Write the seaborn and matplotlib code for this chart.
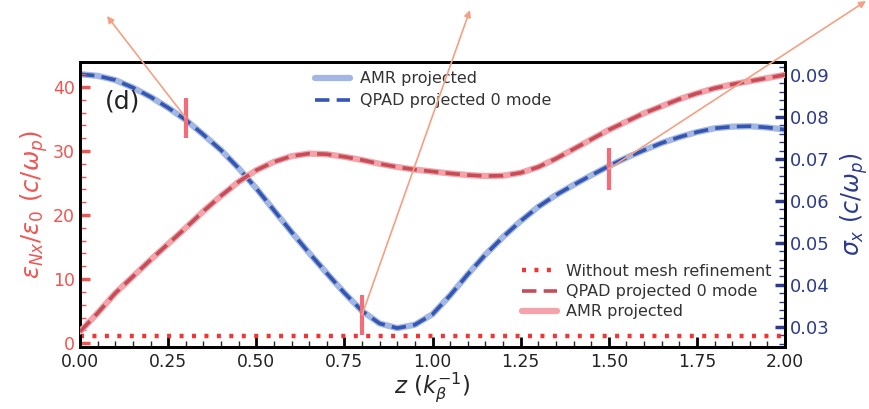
import numpy as np
import pandas as pd
import matplotlib
matplotlib.use("Agg")
import matplotlib.pyplot as plt
import seaborn as sns
from matplotlib.ticker import MultipleLocator, FormatStrFormatter

# ---------------- data ----------------
z = [0.00, 0.05, 0.10, 0.15, 0.20, 0.25, 0.30, 0.35, 0.40, 0.45, 0.50,
     0.55, 0.60, 0.65, 0.70, 0.75, 0.80, 0.85, 0.90, 0.95, 1.00,
     1.05, 1.10, 1.15, 1.20, 1.25, 1.30, 1.35, 1.40, 1.45, 1.50,
     1.55, 1.60, 1.65, 1.70, 1.75, 1.80, 1.85, 1.90, 1.95, 2.00]
emittance = [1.8, 4.7, 7.8, 10.4, 13.0, 15.5, 18.0, 20.6, 23.0, 25.2, 27.0,
             28.3, 29.2, 29.6, 29.5, 29.1, 28.6, 28.0, 27.5, 27.1, 26.8,
             26.5, 26.25, 26.1, 26.15, 26.6, 27.5, 28.8, 30.3, 31.8, 33.3,
             34.6, 35.9, 37.0, 38.1, 39.0, 39.8, 40.4, 40.9, 41.4, 41.9]
sigma_x = [0.0902, 0.0898, 0.0888, 0.0870, 0.0848, 0.0822, 0.0793, 0.0758, 0.0721, 0.0678, 0.0630,
           0.0578, 0.0526, 0.0476, 0.0428, 0.0381, 0.0338, 0.0308, 0.0297, 0.0305, 0.0330,
           0.0375, 0.0425, 0.0472, 0.0514, 0.0552, 0.0586, 0.0614, 0.0638, 0.0661, 0.0683,
           0.0703, 0.0721, 0.0738, 0.0752, 0.0764, 0.0773, 0.0777, 0.0778, 0.0775, 0.0770]
no_mesh_z = [0.00, 2.00]
no_mesh_emittance = [1.1, 1.1]

marker_z = [0.30, 0.80, 1.50]
marker_lo = [32.0, 1.3, 23.9]
marker_hi = [38.3, 7.5, 30.5]
marker_center = [35.2, 4.4, 27.2]

left_label = r"$\varepsilon_{Nx}/\varepsilon_0\ (c/\omega_p)$"
right_label = r"$\sigma_x\ (c/\omega_p)$"
x_label = r"$z\ (k_\beta^{-1})$"

# ---------------- style ----------------
sns.set_style("ticks")
plt.rcParams["font.family"] = ["DejaVu Sans"]

RED_TXT = "#f05552"
NAVY = "#2c3a8c"
PINK = "#f4a3aa"
RED_DASH = "#c44d58"
RED_DOT = "#ef3535"
LBLUE = "#a3b7e4"
DBLUE = "#3455b0"
ARROW = "#f4a083"

fig = plt.figure(figsize=(8.69, 4.09), dpi=100)
ax = fig.add_axes([80 / 869, 1 - 347 / 409, 705 / 869, 285 / 409])
ax2 = ax.twinx()

df = pd.DataFrame({"z": z, "emit": emittance, "sigma": sigma_x})
dn = pd.DataFrame({"z": no_mesh_z, "emit": no_mesh_emittance})

# left axis: emittance
sns.lineplot(data=dn, x="z", y="emit", ax=ax, color=RED_DOT, lw=3.2,
             linestyle=(0, (0.9, 1.9)), label="Without mesh refinement")
sns.lineplot(data=df, x="z", y="emit", ax=ax, color=RED_DASH, lw=2.6,
             linestyle=(0, (4, 2)), label="QPAD projected 0 mode", zorder=4)
sns.lineplot(data=df, x="z", y="emit", ax=ax, color=PINK, lw=4.5,
             label="AMR projected", zorder=3)

# right axis: sigma
sns.lineplot(data=df, x="z", y="sigma", ax=ax2, color=LBLUE, lw=4.5,
             label="AMR projected", zorder=3)
sns.lineplot(data=df, x="z", y="sigma", ax=ax2, color=DBLUE, lw=2.6,
             linestyle=(0, (4, 2)), label="QPAD projected 0 mode", zorder=4)

ax.set_xlim(0, 2.0)
ax.set_ylim(-0.6, 43.9)
ax2.set_ylim(0.0252, 0.0931)

# markers
ax.vlines(marker_z, marker_lo, marker_hi, color="#f26d78", lw=3, zorder=6)

# arrows leaving the axes
arrow_targets = [(107 / 869, 1 - 16 / 409), (470 / 869, 1 - 10 / 409), (866 / 869, 1 - 1 / 409)]
for mz, mc, tgt in zip(marker_z, marker_center, arrow_targets):
    ax.annotate("", xy=tgt, xycoords="figure fraction", xytext=(mz, mc),
                textcoords="data",
                arrowprops=dict(arrowstyle="-|>", color=ARROW, lw=1.2,
                                mutation_scale=10, shrinkA=0, shrinkB=0),
                annotation_clip=False, zorder=7)

# ticks
ax.xaxis.set_major_locator(MultipleLocator(0.25))
ax.xaxis.set_minor_locator(MultipleLocator(0.05))
ax.xaxis.set_major_formatter(FormatStrFormatter("%.2f"))
ax.yaxis.set_major_locator(MultipleLocator(10))
ax.yaxis.set_minor_locator(MultipleLocator(2))
ax2.yaxis.set_major_locator(MultipleLocator(0.01))
ax2.yaxis.set_minor_locator(MultipleLocator(0.002))
ax2.yaxis.set_major_formatter(FormatStrFormatter("%.2f"))

ax.tick_params(axis="x", which="major", direction="in", length=7, width=2,
               labelsize=12.3, colors="black", labelcolor="#222222", top=False, pad=4)
ax.tick_params(axis="x", which="minor", direction="in", length=4, width=1, top=False)
ax.tick_params(axis="y", which="major", direction="in", length=7, width=2.5,
               labelsize=12.5, color=RED_TXT, labelcolor=RED_TXT)
ax.tick_params(axis="y", which="minor", direction="in", length=4, width=1, color=RED_TXT)
ax2.tick_params(axis="y", which="major", direction="in", length=7, width=2.5,
                labelsize=13, color=NAVY, labelcolor=NAVY)
ax2.tick_params(axis="y", which="minor", direction="in", length=4, width=1, color=NAVY)

for a in (ax, ax2):
    for s in a.spines.values():
        s.set_linewidth(2)
        s.set_color("black")
        s.set_visible(True)

ax.set_xlabel(x_label, fontsize=16.5, labelpad=0)
ax.set_ylabel(left_label, fontsize=17.5, color=RED_TXT, labelpad=2)
ax2.set_ylabel(right_label, fontsize=17, color=NAVY, labelpad=6)

ax.text(0.035, 0.86, "(d)", transform=ax.transAxes, fontsize=18, color="#222222",
        ha="left", va="center")

# legends
leg1 = ax.legend(loc="lower right", bbox_to_anchor=(0.9906, 0.075), frameon=False,
                 fontsize=11.5, handlelength=2.2, labelspacing=0.32,
                 handletextpad=0.6, borderaxespad=0)
for t in leg1.get_texts():
    t.set_color("#333333")
ax.set_zorder(ax2.get_zorder() + 1)
ax.patch.set_visible(False)
leg2 = ax2.legend(loc="upper left", bbox_to_anchor=(0.324, 0.99), frameon=False,
                  fontsize=11.5, handlelength=2.2, labelspacing=0.45,
                  handletextpad=0.6, borderaxespad=0)
for t in leg2.get_texts():
    t.set_color("#333333")

fig.savefig("out.png", dpi=100)
